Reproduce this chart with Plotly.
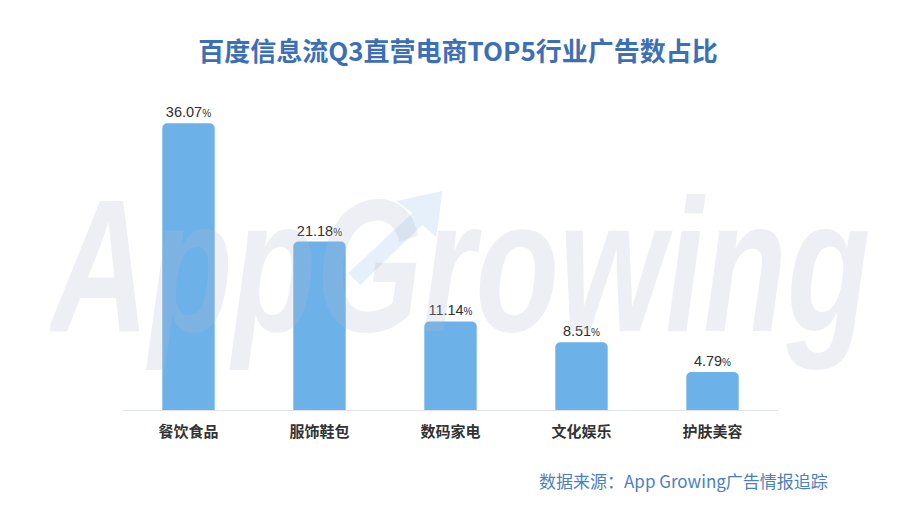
import base64
import plotly.graph_objects as go

categories = ["餐饮食品", "服饰鞋包", "数码家电", "文化娱乐", "护肤美容"]
shares = [36.07, 21.18, 11.14, 8.51, 4.79]

fig = go.Figure()

fig.add_trace(
    go.Bar(
        x=categories,
        y=shares,
        width=0.4,
        marker=dict(color="#6cb1e8", line=dict(width=0)),
        texttemplate="%{y:.2f}<span style='font-size:10px'>%</span>",
        textposition="outside",
        textfont=dict(size=14.5, color="#2e2e2e", family="Liberation Sans, Arial"),
        cliponaxis=False,
        hoverinfo="skip",
    )
)

# watermark logo as a small svg, laid over the plot
logo_svg = (
    "<svg xmlns='http://www.w3.org/2000/svg' width='820' height='230' viewBox='0 0 820 230'>"
    "<path d='M298 92 L362 32 L346 20 L392 10 L386 56 L372 44 L310 104 Z' fill='rgb(170,205,240)' fill-opacity='0.3'/>"
    "<text x='0' y='150' font-family='Liberation Sans' font-weight='bold' font-style='italic' "
    "font-size='190' textLength='820' lengthAdjust='spacingAndGlyphs' "
    "fill='rgb(180,190,210)' fill-opacity='0.24'>AppGrowing</text></svg>"
)
logo_src = "data:image/svg+xml;base64," + base64.b64encode(logo_svg.encode()).decode()

fig.add_layout_image(
    dict(
        source=logo_src,
        xref="paper",
        yref="paper",
        x=-0.111,
        y=0.72,
        sizex=1.252,
        sizey=0.723,
        xanchor="left",
        yanchor="top",
        sizing="stretch",
        layer="above",
    )
)

fig.add_annotation(
    text="数据来源：App Growing广告情报追踪",
    xref="paper",
    yref="paper",
    x=1.079,
    y=-0.223,
    xanchor="right",
    yanchor="middle",
    showarrow=False,
    font=dict(size=17, color="#4a7fc0", family="Noto Sans CJK SC"),
)

fig.update_layout(
    width=900,
    height=506,
    margin=dict(l=115, r=130, t=84, b=104),
    paper_bgcolor="white",
    plot_bgcolor="white",
    barcornerradius=5,
    showlegend=False,
    title=dict(
        text="<b>百度信息流Q3直营电商TOP5行业广告数占比</b>",
        x=0.5,
        xanchor="center",
        y=0.913,
        yanchor="middle",
        font=dict(size=26, color="#3d6fb6", family="Noto Sans CJK SC"),
    ),
    font=dict(family="Noto Sans CJK SC", color="#333333"),
)

fig.update_xaxes(
    showline=True,
    linecolor="#dfe3ea",
    linewidth=1,
    ticks="",
    showgrid=False,
    tickfont=dict(size=15, color="#333333", family="Noto Sans CJK SC"),
    ticklabelstandoff=8,
    tickprefix="<b>",
    ticksuffix="</b>",
)
fig.update_yaxes(visible=False, range=[0, 40], showgrid=False)

fig.write_html("out.html")
